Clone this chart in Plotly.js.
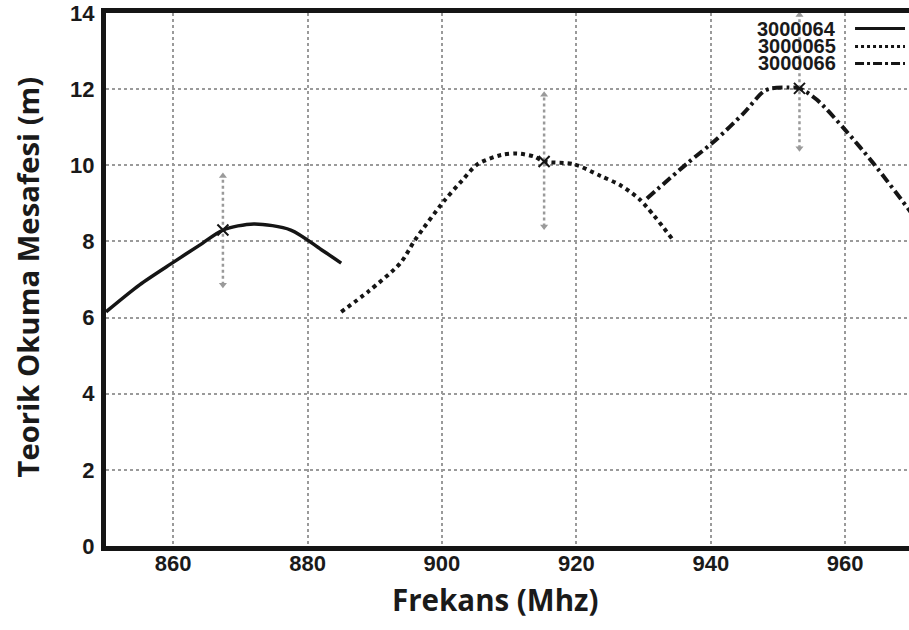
<!DOCTYPE html>
<html>
<head>
<meta charset="utf-8">
<script src="https://cdn.plot.ly/plotly-3.0.1.min.js"></script>
<style>html,body{margin:0;padding:0;background:#fff;}#chart{width:909px;height:630px;}</style>
</head>
<body>
<div id="chart"></div>
<script>
// ---- data ----
const seriesNames = ["3000064", "3000065", "3000066"];

const s64x = [850, 855, 860, 864, 867.4, 872, 877.5, 882, 885];
const s64y = [6.15, 6.86, 7.45, 7.91, 8.30, 8.46, 8.30, 7.79, 7.43];

const s65x = [885, 889, 893.8, 896, 900.3, 903, 905.3, 908.8, 911.2, 913.7, 915.2, 919.6, 923.6, 926.5, 929.5, 934.2];
const s65y = [6.15, 6.68, 7.43, 8.04, 9.06, 9.6, 10.03, 10.27, 10.31, 10.23, 10.1, 10.03, 9.72, 9.48, 9.09, 8.08];

const s66x = [930.5, 936.5, 940.7, 944.9, 947.8, 949, 951.5, 953.2, 955.8, 960, 964.2, 969.5, 970];
const s66y = [9.13, 10.05, 10.66, 11.37, 11.93, 12.02, 12.04, 12.02, 11.72, 10.93, 10.05, 8.83, 8.7];

const errX = [867.4, 915.2, 953.2];
const errY = [8.30, 10.10, 12.02];
const errLow = [6.86, 8.39, 10.45];
const errHigh = [9.72, 11.85, 13.95];

const xTicks = [860, 880, 900, 920, 940, 960];
const yTicks = [0, 2, 4, 6, 8, 10, 12, 14];

const xTitle = "Frekans (Mhz)";
const yTitle = "Teorik Okuma Mesafesi (m)";

// ---- styles ----
const dashes = ["solid", "4px,4px", "10px,4px,3px,4px"];
const legendDashes = ["solid", "3px,3px", "9px,3px,3px,3px"];
const ink = "#151515";
const gridGray = "#9a9a9a";
const tickFont = {family: "Liberation Sans, Arial, sans-serif", size: 22, color: "#1a1a1a", weight: 700};

const traces = [];
const sx = [s64x, s65x, s66x], sy = [s64y, s65y, s66y];
for (let i = 0; i < 3; i++) {
  traces.push({
    x: sx[i], y: sy[i], mode: "lines", name: seriesNames[i],
    line: {color: ink, width: i === 0 ? 3.5 : 4, dash: dashes[i], shape: "spline", smoothing: 0.8},
    hoverinfo: "skip"
  });
}
for (let i = 0; i < errX.length; i++) {
  traces.push({
    x: [errX[i], errX[i]], y: [errLow[i], errHigh[i]], mode: "lines+markers",
    line: {color: gridGray, width: 2.5, dash: "dot"},
    marker: {symbol: ["triangle-down", "triangle-up"], size: 7, color: gridGray},
    hoverinfo: "skip"
  });
}
traces.push({
  x: errX, y: errY, mode: "markers",
  marker: {symbol: "x-thin-open", size: 11, color: ink, line: {width: 2, color: ink}},
  hoverinfo: "skip"
});

const L = 105.5, R = 909, T = 13, B = 546;
const px2x = p => (p - L) / (R - L);
const py2y = p => (B - p) / (B - T);

const annotations = [
  {text: xTitle, xref: "paper", yref: "paper", x: px2x(495), y: py2y(599), xanchor: "center", yanchor: "middle",
   showarrow: false, font: {family: "Open Sans, sans-serif", size: 29.5, color: "#1a1a1a", weight: 700}},
  {text: yTitle, xref: "paper", yref: "paper", x: px2x(27), y: py2y(277), xanchor: "center", yanchor: "middle",
   textangle: -90, showarrow: false, font: {family: "Open Sans, sans-serif", size: 29.3, color: "#1a1a1a", weight: 700}}
];
const legendY = [29.5, 46, 63];
const legendLineY = [28.5, 46.5, 63.5];
const shapes = [];
for (let i = 0; i < 3; i++) {
  annotations.push({text: seriesNames[i], xref: "paper", yref: "paper", x: px2x(837), y: py2y(legendY[i]),
    xanchor: "right", yanchor: "middle", showarrow: false, height: 16, borderpad: 0,
    font: {family: "Liberation Sans, Arial, sans-serif", size: 20, color: "#1a1a1a", weight: 700}});
  shapes.push({type: "line", xref: "paper", yref: "paper", x0: px2x(855), x1: px2x(905),
    y0: py2y(legendLineY[i]), y1: py2y(legendLineY[i]),
    line: {color: ink, width: 3, dash: legendDashes[i]}});
}

const layout = {
  width: 909, height: 630,
  margin: {l: L, r: 0, t: T, b: 630 - B, pad: 0},
  paper_bgcolor: "#ffffff", plot_bgcolor: "#ffffff",
  showlegend: false,
  xaxis: {
    range: [850, 969.5], tickmode: "array", tickvals: xTicks, ticktext: xTicks.map(String),
    showgrid: true, gridcolor: gridGray, gridwidth: 2, griddash: "dot", zeroline: false,
    showline: true, linecolor: ink, linewidth: 5, mirror: true, ticks: "", ticklabelstandoff: -6,
    tickfont: tickFont, fixedrange: true
  },
  yaxis: {
    range: [0, 14], tickmode: "array", tickvals: yTicks, ticktext: yTicks.map(String),
    showgrid: true, gridcolor: gridGray, gridwidth: 2, griddash: "dot", zeroline: false,
    showline: true, linecolor: ink, linewidth: 5, mirror: false, ticks: "", ticklabelstandoff: 2,
    tickfont: tickFont, fixedrange: true
  },
  annotations: annotations,
  shapes: shapes
};

Plotly.newPlot("chart", traces, layout, {staticPlot: true, displayModeBar: false});
</script>
</body>
</html>
